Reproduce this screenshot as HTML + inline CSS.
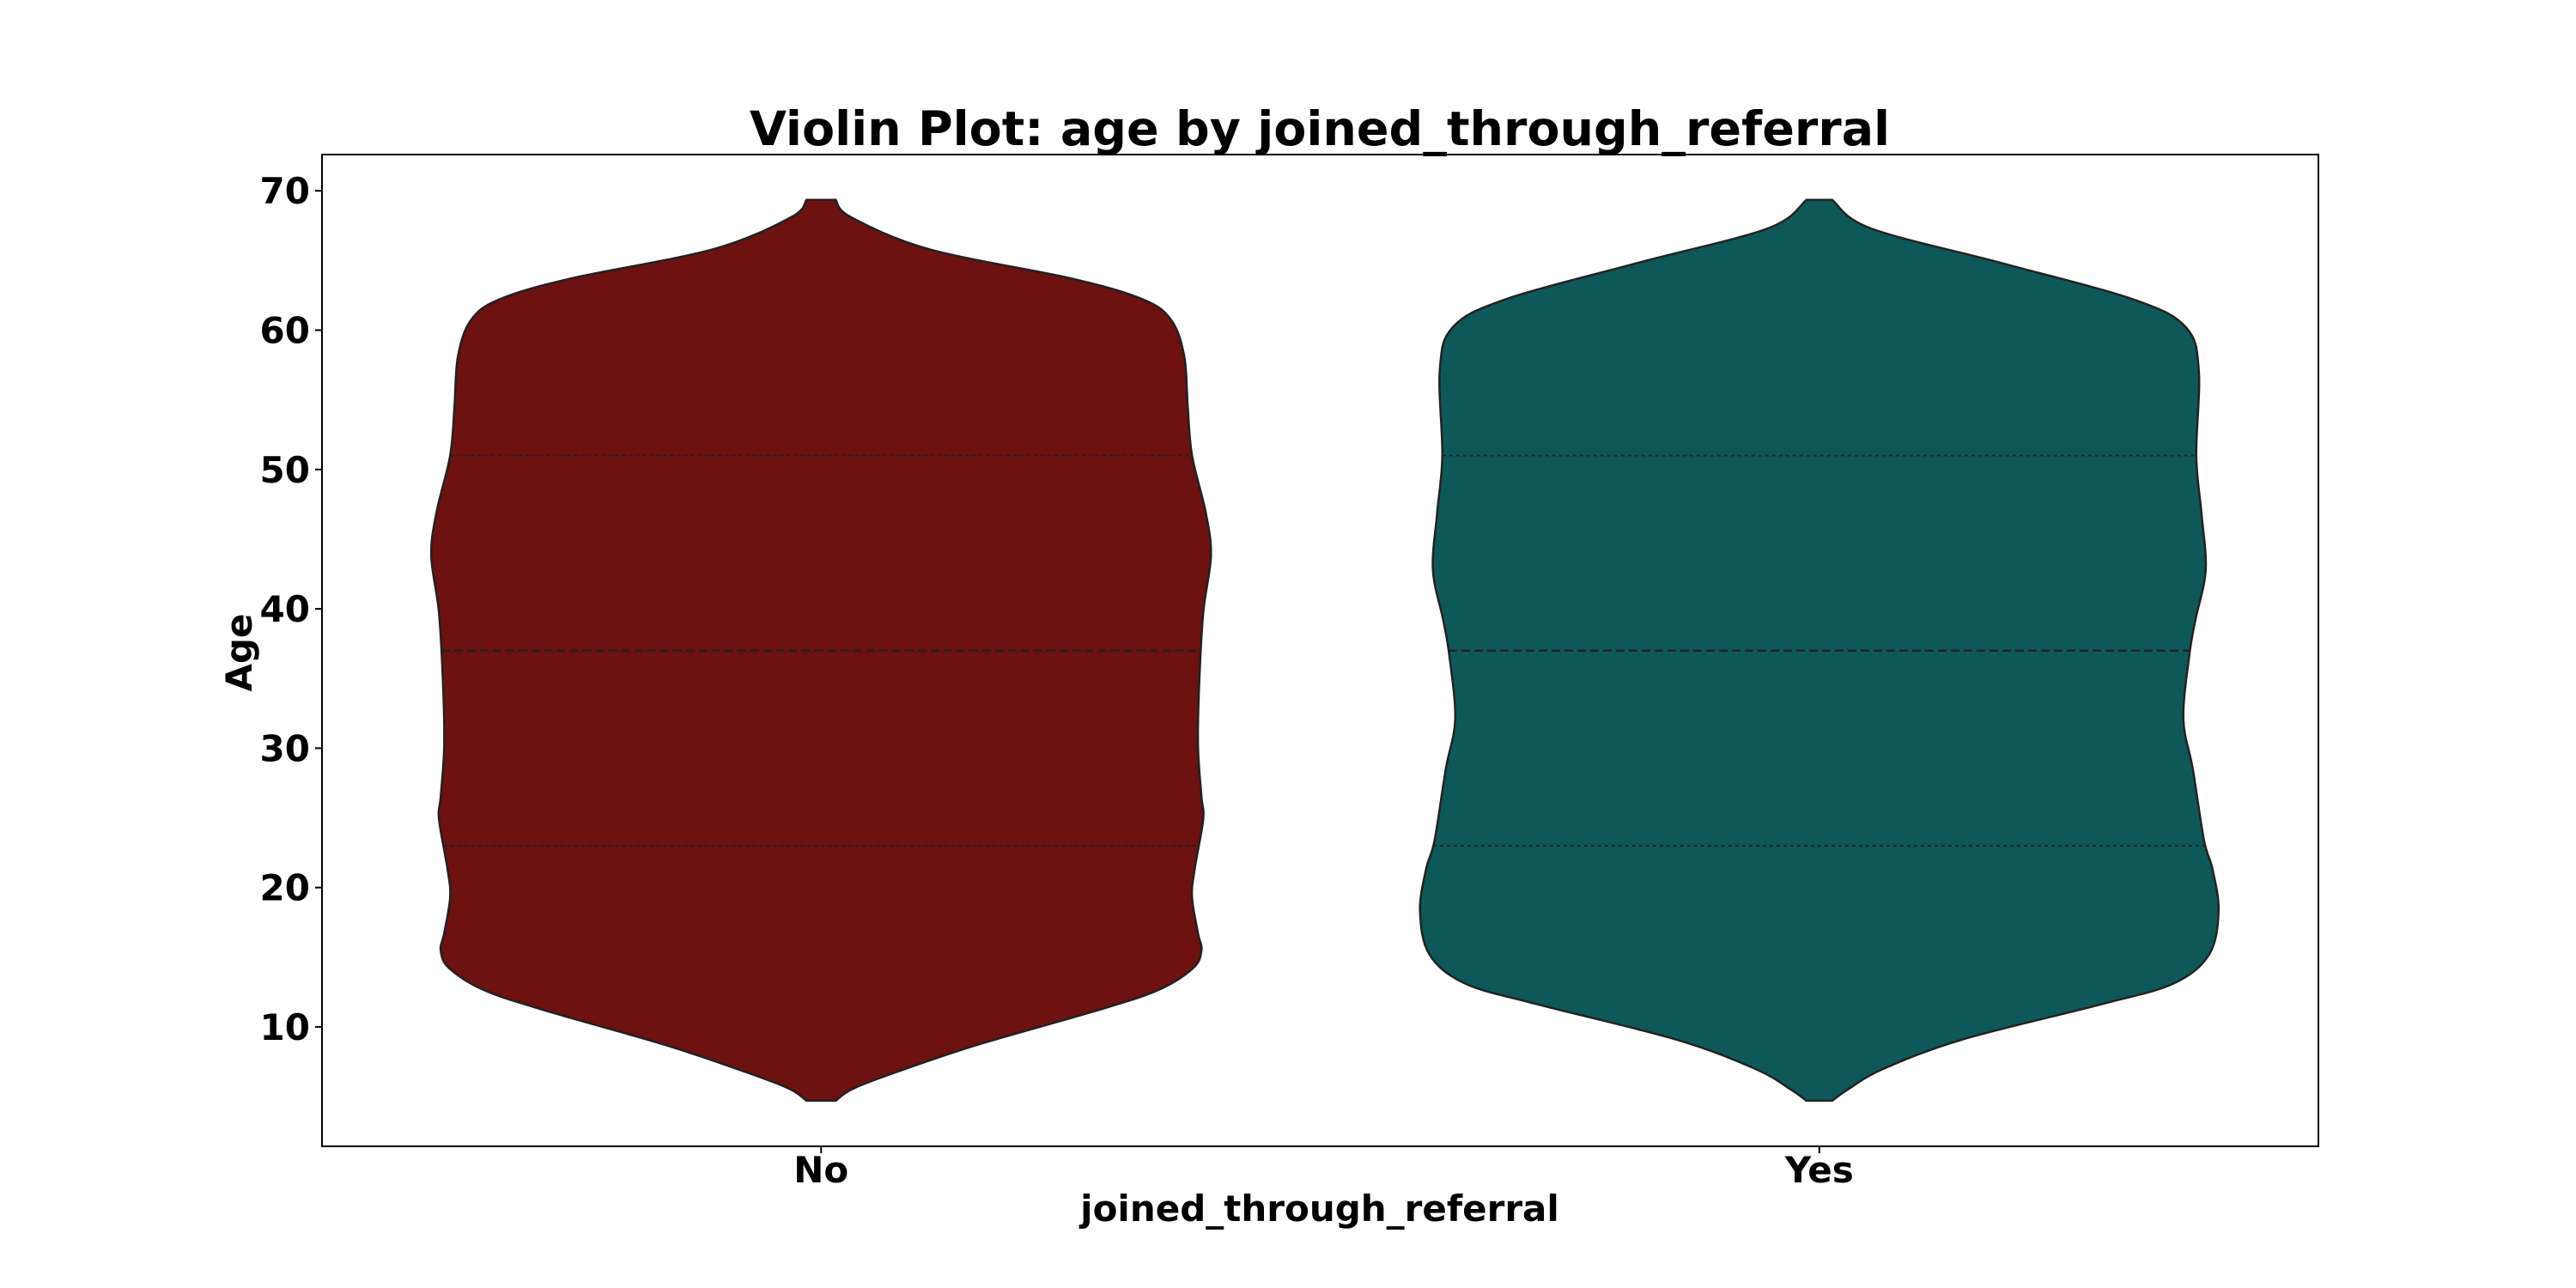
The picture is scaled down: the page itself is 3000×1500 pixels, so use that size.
<!DOCTYPE html>
<html><head><meta charset="utf-8"><style>
html,body{margin:0;padding:0;background:#fff;}
svg{display:block;}
text{font-family:"DejaVu Sans","Liberation Sans",sans-serif;font-weight:bold;fill:#000;}
</style></head><body>
<svg id="chart" width="3000" height="1500" viewBox="0 0 3000 1500" xmlns="http://www.w3.org/2000/svg">
<rect width="3000" height="1500" fill="#fff"/>
<text x="1537" y="169" font-size="55.5" text-anchor="middle">Violin Plot: age by joined_through_referral</text>
<g id="plot"></g>
<rect x="375" y="180" width="2325" height="1155" fill="none" stroke="#000" stroke-width="2"/>
<text x="1537" y="1422" font-size="42" text-anchor="middle">joined_through_referral</text>
<text transform="translate(293,760) rotate(-90)" font-size="42" text-anchor="middle">Age</text>
</svg>
<script>
const categories = ["No", "Yes"];
const colors = ["#6d1111", "#0f5859"];
const yTicks = [10, 20, 30, 40, 50, 60, 70];
const noAges =   [69.35,68.1,65.8,63.7,62.2,60.7,58.1,54.5,51,46.9,43.8,39.7,34.1,30,26.5,24.9,21.3,19.3,16.7,15.5,14.2,12.6,11.1,8.6,6.5,5.5,4.7];
const noWidths = [17,35,126,292,375,408,423,427,432,448,454,445,440,439,443,445,435,432,439,443,433,391,317,176,76,35,17];
const yesAges =   [69.35,67.3,64.8,62.2,60.2,57.1,51,46.9,42.8,39.2,36.7,32.1,28.5,23.4,21.3,18.3,15.2,13.1,11.6,9.1,7.0,5.5,4.7];
const yesWidths = [15,60,213,366,427,442,439,445,450,438,431,424,435,448,458,465,454,412,327,167,75,33,15];
const quartiles = [[23,37,51],[23,37,51]];

const NS = "http://www.w3.org/2000/svg";
const L = 375, R = 2700, T = 180, B = 1335;
const yMin = 1.43, yMax = 72.6;
const maxHalf = 465;
const maxW = Math.max(...noWidths, ...yesWidths);
function y(v){ return B - (v - yMin) / (yMax - yMin) * (B - T); }
function x(i){ return L + (R - L) * (i + 0.5) / categories.length; }
function hw(w){ return w / maxW * maxHalf; }

const plot = document.getElementById('plot');
const svg = document.getElementById('chart');

function smooth(pts){
  let d = "M" + pts[0][0] + "," + pts[0][1];
  for (let i = 0; i < pts.length - 1; i++){
    const p0 = pts[Math.max(i-1,0)], p1 = pts[i], p2 = pts[i+1], p3 = pts[Math.min(i+2,pts.length-1)];
    const c1x = p1[0] + (p2[0]-p0[0])/6, c1y = p1[1] + (p2[1]-p0[1])/6;
    const c2x = p2[0] - (p3[0]-p1[0])/6, c2y = p2[1] - (p3[1]-p1[1])/6;
    d += " C" + c1x + "," + c1y + " " + c2x + "," + c2y + " " + p2[0] + "," + p2[1];
  }
  return d;
}
function interpW(ages, widths, v){
  for (let i = 0; i < ages.length - 1; i++){
    if (v <= ages[i] && v >= ages[i+1]){
      const t = (ages[i] - v) / (ages[i] - ages[i+1]);
      return widths[i] + t * (widths[i+1] - widths[i]);
    }
  }
  return 0;
}

const series = [[noAges, noWidths], [yesAges, yesWidths]];
series.forEach(function(s, i){
  const ages = s[0], widths = s[1], cx = x(i);
  const right = ages.map((a, k) => [cx + hw(widths[k]), y(a)]);
  const left = ages.map((a, k) => [cx - hw(widths[k]), y(a)]).reverse();
  let d = smooth(right);
  d += " L" + left[0][0] + "," + left[0][1];
  d += smooth(left).replace(/^M[^C]*/, " ");
  d += " Z";
  const p = document.createElementNS(NS, 'path');
  p.setAttribute('d', d);
  p.setAttribute('fill', colors[i]);
  p.setAttribute('stroke', '#222');
  p.setAttribute('stroke-width', '2.5');
  
  
  plot.appendChild(p);
  quartiles[i].forEach(function(q, qi){
    const w = hw(interpW(ages, widths, q));
    const ln = document.createElementNS(NS, 'line');
    ln.setAttribute('x1', cx - w); ln.setAttribute('x2', cx + w);
    ln.setAttribute('y1', y(q)); ln.setAttribute('y2', y(q));
    ln.setAttribute('stroke', '#222');
    ln.setAttribute('stroke-width', qi === 1 ? '2.5' : '2');
    ln.setAttribute('stroke-dasharray', qi === 1 ? '10,5' : '4,4');
    
    
    plot.appendChild(ln);
  });
  const tk = document.createElementNS(NS, 'line');
  tk.setAttribute('x1', cx); tk.setAttribute('x2', cx);
  tk.setAttribute('y1', B); tk.setAttribute('y2', B + 8);
  tk.setAttribute('stroke', '#000'); tk.setAttribute('stroke-width', '2');
  
  
  svg.appendChild(tk);
  const tl = document.createElementNS(NS, 'text');
  tl.setAttribute('x', cx); tl.setAttribute('y', B + 42);
  tl.setAttribute('font-size', '42'); tl.setAttribute('text-anchor', 'middle');
  tl.textContent = categories[i];
  
  
  svg.appendChild(tl);
});

yTicks.forEach(function(v){
  const tk = document.createElementNS(NS, 'line');
  tk.setAttribute('x1', L - 8); tk.setAttribute('x2', L);
  tk.setAttribute('y1', y(v)); tk.setAttribute('y2', y(v));
  tk.setAttribute('stroke', '#000'); tk.setAttribute('stroke-width', '2');
  
  
  svg.appendChild(tk);
  const tl = document.createElementNS(NS, 'text');
  tl.setAttribute('x', L - 14); tl.setAttribute('y', y(v) + 15);
  tl.setAttribute('font-size', '42'); tl.setAttribute('text-anchor', 'end');
  tl.textContent = v;
  
  
  svg.appendChild(tl);
});
</script>
</body></html>
